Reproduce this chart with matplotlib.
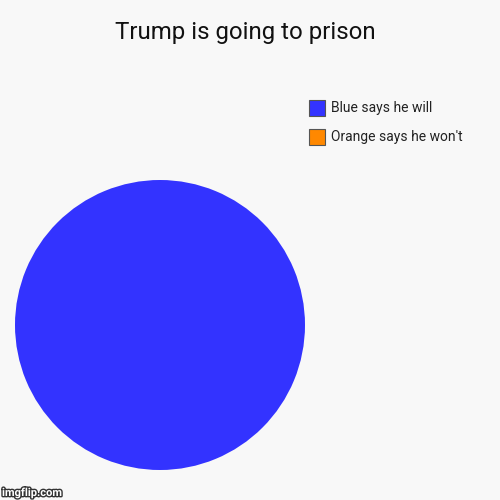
import matplotlib.pyplot as plt
import matplotlib.patheffects as pe
from matplotlib.patches import Rectangle

plt.rcParams['font.family'] = ['Roboto', 'DejaVu Sans']

title = 'Trump is going to prison'
labels = ['Blue says he will', "Orange says he won't"]
values = [100, 0]
colors = ['#3333FF', '#FF8800']

fig = plt.figure(figsize=(5, 5), dpi=100, facecolor='#F8F8F8')
ax = fig.add_axes([0.03, 0.06, 0.58, 0.58])
ax.set_facecolor('#F8F8F8')
ax.pie(values, colors=colors, startangle=90, counterclock=False,
       wedgeprops=dict(linewidth=0))
ax.set_xlim(-1, 1)
ax.set_ylim(-1, 1)
ax.set_aspect('equal')

fig.text(0.49, 0.936, title, ha='center', va='center', fontsize=17.3, color='#111111')

# legend drawn by hand to keep the boxes where the reference has them
for i, (lab, col) in enumerate(zip(labels, colors)):
    y = 0.784 - i * 0.058
    fig.patches.append(Rectangle((0.618, y - 0.016), 0.032, 0.032, facecolor=col,
                                 edgecolor='#555555', linewidth=0.8,
                                 transform=fig.transFigure, figure=fig))
    fig.text(0.662, y, lab, ha='left', va='center', fontsize=10, color='#222222')

wm = fig.text(0.004, 0.014, 'imgflip.com', ha='left', va='center', fontsize=8,
              color='white', fontweight='bold')
wm.set_path_effects([pe.withStroke(linewidth=2, foreground='#333333')])

fig.savefig('out.png', dpi=100, facecolor=fig.get_facecolor())
